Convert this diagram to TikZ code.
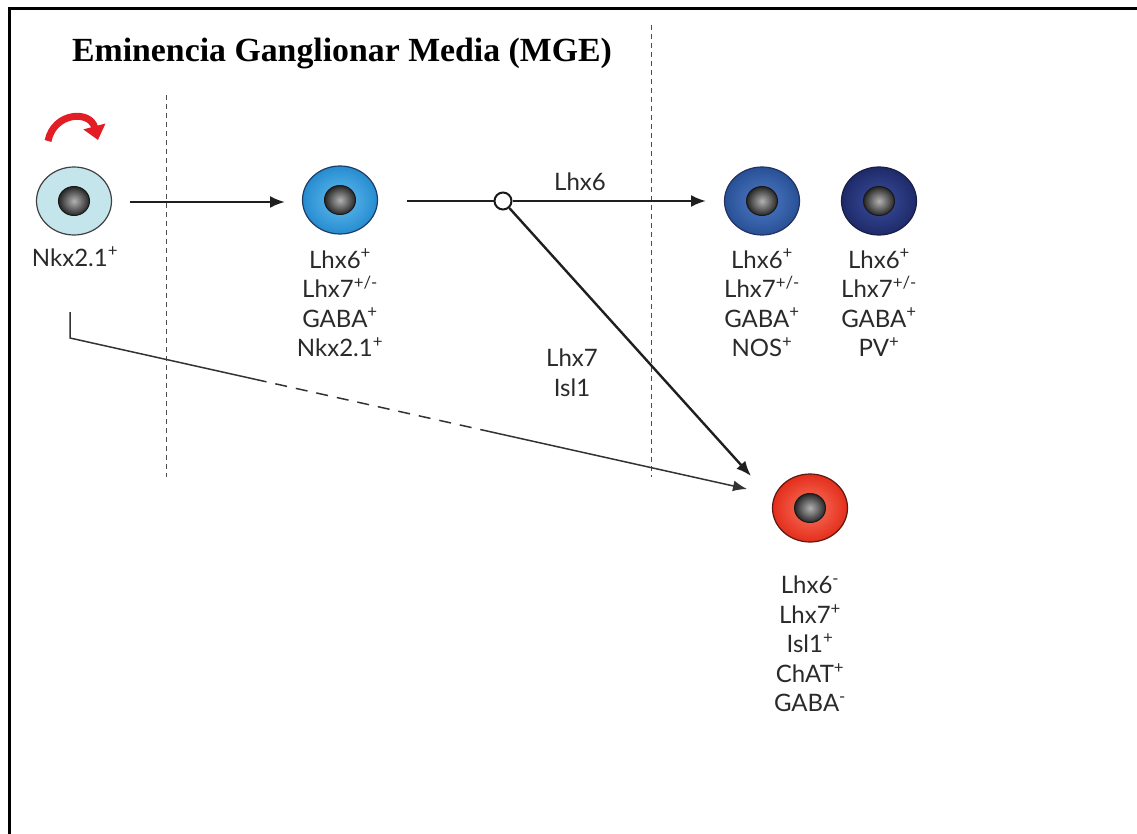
\documentclass[tikz,border=0pt]{standalone}
\usepackage{fontspec}
\setmainfont{Lato}
\newfontfamily\titlefont{Liberation Serif}
\usetikzlibrary{arrows.meta,shapes.geometric,calc}
\newcommand\spx[1]{\textsuperscript{#1}}
\definecolor{txt}{HTML}{2A2A2A}
\begin{document}
\begin{tikzpicture}[x=1pt,y=-1pt,
  cellbase/.style={ellipse, minimum width=75pt, minimum height=68pt, inner sep=0pt, line width=1.2pt},
  nucleus/.style={ellipse, minimum width=31pt, minimum height=29pt, inner sep=0pt, draw=black!90, line width=1pt, inner color=gray!60, outer color=black!85},
  lab/.style={align=center, font=\fontsize{24}{29.5}\selectfont, inner sep=0pt, anchor=north, text=txt},
  arr/.style={line width=2.4pt, draw=black!88, -{Latex[length=15pt,width=12pt]}},
  thinarr/.style={line width=1.5pt, draw=black!80},
  divider/.style={draw=black!70, line width=1pt, dash pattern=on 5pt off 4pt},
  branchdot/.style={circle, draw=black!90, fill=white, line width=2pt, minimum size=17pt, inner sep=0pt}
]
\useasboundingbox (0,0) rectangle (1137,834);
% frame
\draw[line width=3.5pt, black] (9.5,834) -- (9.5,8.5) -- (1137,8.5);
% title
\node[font=\titlefont\bfseries\fontsize{33.8}{38}\selectfont, inner sep=0pt] (title) at (342,54) {Eminencia Ganglionar Media (MGE)};
% dividers
\coordinate (d1t) at (166,95); \coordinate (d1b) at (166,477);
\coordinate (d2t) at (651,25); \coordinate (d2b) at (651,477);
\draw[divider] (d1t) -- (d1b);
\draw[divider] (d2t) -- (d2b);
% cells
\node[cellbase, draw=black!75, fill={rgb,255:red,196;green,229;blue,236}] (c1) at (74,201) {};
\node[nucleus] (n1) at (c1) {};
\node[cellbase, draw={rgb,255:red,30;green,60;blue,100}, inner color={rgb,255:red,100;green,190;blue,240}, outer color={rgb,255:red,38;green,140;blue,208}] (c2) at (340,200) {};
\node[nucleus] (n2) at (c2) {};
\node[cellbase, draw={rgb,255:red,35;green,50;blue,95}, inner color={rgb,255:red,80;green,125;blue,200}, outer color={rgb,255:red,40;green,80;blue,150}] (c3) at (762,201) {};
\node[nucleus] (n3) at (c3) {};
\node[cellbase, draw={rgb,255:red,25;green,30;blue,70}, inner color={rgb,255:red,60;green,80;blue,160}, outer color={rgb,255:red,30;green,42;blue,105}] (c4) at (879,201) {};
\node[nucleus] (n4) at (c4) {};
\node[cellbase, draw={rgb,255:red,90;green,25;blue,15}, inner color={rgb,255:red,248;green,120;blue,95}, outer color={rgb,255:red,228;green,45;blue,28}] (c5) at (810,508) {};
\node[nucleus] (n5) at (c5) {};
% labels
\node[lab] (l1) at (75,247) {Nkx2.1\spx{+}};
\node[lab] (l2) at (340,249) {Lhx6\spx{+}\\Lhx7\spx{+/-}\\GABA\spx{+}\\Nkx2.1\spx{+}};
\node[lab] (l3) at (762,249) {Lhx6\spx{+}\\Lhx7\spx{+/-}\\GABA\spx{+}\\NOS\spx{+}};
\node[lab] (l4) at (879,249) {Lhx6\spx{+}\\Lhx7\spx{+/-}\\GABA\spx{+}\\PV\spx{+}};
\node[lab] (l5) at (810,576) {Lhx6\spx{-}\\Lhx7\spx{+}\\Isl1\spx{+}\\ChAT\spx{+}\\GABA\spx{-}};
\node[lab, anchor=center] (e1) at (580,182) {Lhx6};
\node[lab, anchor=center] (e2) at (572,373) {Lhx7\\Isl1};
% red self-renewal arrow
\coordinate (ra) at (48,141); \coordinate (rb) at (98,140);
\draw[line width=7pt, draw={rgb,255:red,226;green,30;blue,36}, -{Triangle[length=14pt,width=22pt]}] (ra) .. controls (54,112) and (90,110) .. (rb);
% arrows
\coordinate (a1s) at (130,202); \coordinate (a1e) at (285,202);
\draw[arr] (a1s) -- (a1e);
\node[branchdot] (br) at (503,201) {};
\coordinate (a2s) at (407,201);
\draw[line width=2.4pt, draw=black!88] (a2s) -- (br);
\coordinate (a3e) at (706,201);
\draw[arr] (br) -- (a3e);
\coordinate (a4e) at (751,476);
\draw[arr] (br) -- (a4e);
% L-shaped partly dashed arrow
\coordinate (ls) at (70,312); \coordinate (lc) at (70,338); \coordinate (le) at (747,489);
\draw[thinarr] (ls) -- (lc) -- ($(lc)!0.273!(le)$);
\draw[thinarr, dash pattern=on 12pt off 9pt] ($(lc)!0.273!(le)$) -- ($(lc)!0.613!(le)$);
\draw[thinarr, -{Latex[length=14pt,width=11pt]}] ($(lc)!0.613!(le)$) -- (le);
\end{tikzpicture}
\end{document}
